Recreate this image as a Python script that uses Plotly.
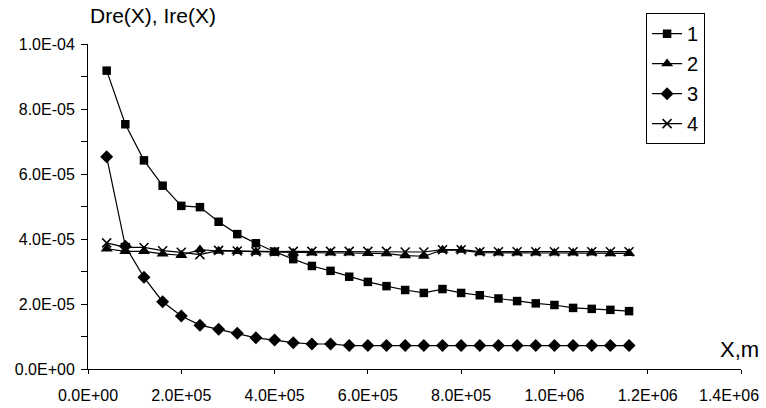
import plotly.graph_objects as go

# X positions (m)
x_vals = [40000 * k for k in range(1, 30)]

# Series values (x 1e-5)
s1 = [9.18, 7.53, 6.42, 5.64, 5.02, 4.98, 4.53, 4.15, 3.87, 3.61, 3.38, 3.17,
      3.02, 2.84, 2.68, 2.55, 2.43, 2.34, 2.46, 2.34, 2.27, 2.17, 2.09, 2.02,
      1.97, 1.88, 1.85, 1.82, 1.78]
s2 = [3.70, 3.62, 3.62, 3.54, 3.50, 3.67, 3.63, 3.62, 3.60, 3.60, 3.57, 3.57,
      3.57, 3.57, 3.56, 3.55, 3.49, 3.47, 3.66, 3.66, 3.58, 3.57, 3.57, 3.57,
      3.57, 3.57, 3.57, 3.55, 3.56]
s3 = [6.53, 3.78, 2.82, 2.07, 1.63, 1.35, 1.22, 1.10, 0.96, 0.89, 0.81, 0.77,
      0.77, 0.72, 0.72, 0.72, 0.72, 0.72, 0.72, 0.72, 0.72, 0.72, 0.72, 0.72,
      0.72, 0.72, 0.72, 0.72, 0.72]
s4 = [3.88, 3.74, 3.74, 3.64, 3.59, 3.52, 3.65, 3.63, 3.61, 3.61, 3.62, 3.62,
      3.62, 3.62, 3.62, 3.62, 3.60, 3.60, 3.67, 3.67, 3.61, 3.61, 3.61, 3.61,
      3.61, 3.61, 3.61, 3.61, 3.61]
scale = 1e-5

series_names = ["1", "2", "3", "4"]

x_tickvals = [0, 2e5, 4e5, 6e5, 8e5, 1e6, 1.2e6, 1.4e6]
x_ticktext = ["0.0E+00", "2.0E+05", "4.0E+05", "6.0E+05", "8.0E+05",
              "1.0E+06", "1.2E+06", "1.4E+06"]
y_tickvals = [0, 1e-5, 2e-5, 3e-5, 4e-5, 5e-5, 6e-5, 7e-5, 8e-5, 9e-5, 1e-4]
y_ticktext = ["0.0E+00", "", "2.0E-05", "", "4.0E-05", "", "6.0E-05", "",
              "8.0E-05", "", "1.0E-04"]

FONT = "Liberation Sans, Arial, sans-serif"

fig = go.Figure()
styles = [
    dict(symbol="square", size=8.5),
    dict(symbol="triangle-up", size=10.5),
    dict(symbol="diamond", size=10),
    dict(symbol="x-thin", size=9, line=dict(width=1.5, color="black")),
]
for name, data, st in zip(series_names, [s1, s2, s3, s4], styles):
    fig.add_trace(go.Scatter(
        x=x_vals, y=[v * scale for v in data], name=name,
        legendgroup=name,
        mode="lines+markers",
        line=dict(color="black", width=1.2),
        marker=dict(color="black", **st),
    ))

# last x tick label is drawn as an annotation so it stays inside the page
axis_ticktext = x_ticktext[:-1] + [""]

fig.update_layout(
    width=766, height=408, autosize=False,
    margin=dict(l=88, r=25, t=44, b=39, autoexpand=False),
    paper_bgcolor="white", plot_bgcolor="white",
    font=dict(family=FONT, size=16, color="black"),
    showlegend=True,
    legend=dict(
        x=0.945, xanchor="right", y=1.095, yanchor="top",
        bordercolor="black", borderwidth=1, bgcolor="white",
        font=dict(size=20, family=FONT), itemwidth=30,
        tracegroupgap=1,
    ),
    xaxis=dict(
        range=[0, 1.4e6], tickmode="array", tickvals=x_tickvals,
        ticktext=axis_ticktext, ticks="outside", ticklen=4, tickcolor="black",
        showline=True, linecolor="black", linewidth=1, showgrid=False,
        zeroline=False, ticklabelstandoff=8, automargin=False,
    ),
    yaxis=dict(
        range=[0, 1e-4], tickmode="array", tickvals=y_tickvals,
        ticktext=y_ticktext, ticks="outside", ticklen=6, tickcolor="black",
        showline=True, linecolor="black", linewidth=1, showgrid=False,
        zeroline=False, ticklabelstandoff=3, automargin=False,
    ),
    annotations=[
        dict(text="Dre(X), Ire(X)", xref="paper", yref="paper", x=0, y=1,
             xanchor="left", yanchor="bottom", xshift=0, yshift=15,
             showarrow=False, font=dict(size=21, family=FONT)),
        dict(text="X,m", xref="paper", yref="paper", x=1, y=0,
             xanchor="right", yanchor="middle", xshift=20, yshift=20,
             showarrow=False, font=dict(size=22, family=FONT)),
        dict(text=x_ticktext[-1], xref="x", yref="paper", x=x_tickvals[-1],
             y=0, xanchor="right", yanchor="middle", xshift=20, yshift=-26,
             showarrow=False, font=dict(size=16, family=FONT)),
    ],
)

fig.write_html("out.html")
